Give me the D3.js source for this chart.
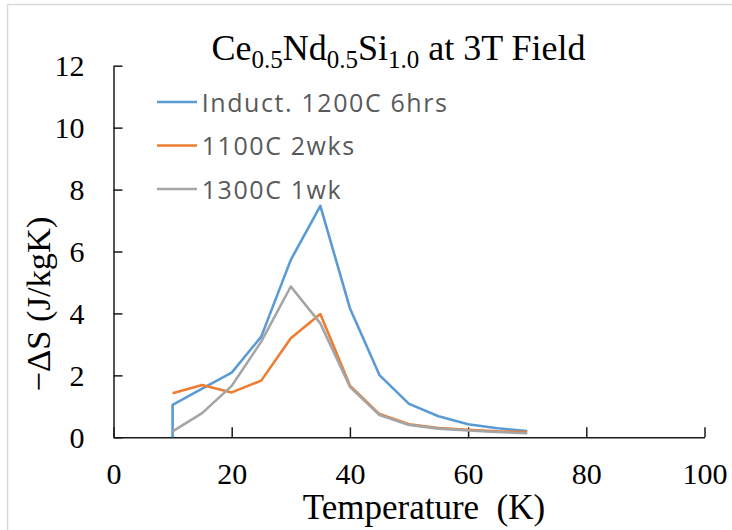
<!DOCTYPE html>
<html>
<head>
<meta charset="utf-8">
<script src="https://cdn.jsdelivr.net/npm/d3@7"></script>
<style>
  html, body { margin: 0; padding: 0; background: #fff; }
  svg { display: block; }
</style>
</head>
<body>
<div id="chart"></div>
<script>
// ---- data ----
const seriesNames = ["Induct. 1200C 6hrs", "1100C 2wks", "1300C 1wk"];
const seriesColors = ["#5B9BD5", "#ED7D31", "#A5A5A5"];
const inductTemps = [10, 10, 15, 20, 25, 30, 35, 40, 45, 50, 55, 60, 65, 70];
const inductVals  = [0, 1.05, 1.57, 2.09, 3.25, 5.73, 7.47, 4.17, 2.01, 1.08, 0.68, 0.42, 0.29, 0.20];
const temps       = [10, 15, 20, 25, 30, 35, 40, 45, 50, 55, 60, 65, 70];
const wks2Vals    = [1.42, 1.69, 1.45, 1.83, 3.20, 3.98, 1.67, 0.75, 0.42, 0.30, 0.24, 0.19, 0.17];
const wk1Vals     = [0.19, 0.78, 1.66, 3.09, 4.87, 3.68, 1.63, 0.72, 0.40, 0.28, 0.22, 0.17, 0.13];
const xTicks = [0, 20, 40, 60, 80, 100];
const yTicks = [0, 2, 4, 6, 8, 10, 12];

const series = [
  { name: seriesNames[0], color: seriesColors[0], pts: inductTemps.map((t, i) => [t, inductVals[i]]) },
  { name: seriesNames[1], color: seriesColors[1], pts: temps.map((t, i) => [t, wks2Vals[i]]) },
  { name: seriesNames[2], color: seriesColors[2], pts: temps.map((t, i) => [t, wk1Vals[i]]) }
];

// ---- layout ----
const W = 732, H = 530;
const svg = d3.select("#chart").append("svg").attr("width", W).attr("height", H);

// chart-area border (left + top)
svg.append("path").attr("d", "M7.5,530 V4.5 H732")
  .attr("fill", "none").attr("stroke", "#d9d9d9").attr("stroke-width", 1.5);

const x = d3.scaleLinear().domain([0, 100]).range([113.5, 704.5]);
const y = d3.scaleLinear().domain([0, 12]).range([437.3, 65.7]);

const serif = "'Liberation Serif', 'Times New Roman', serif";

// axes
const xAxis = svg.append("g").attr("transform", `translate(0,${y(0)})`)
  .call(d3.axisBottom(x).tickValues(xTicks).tickSizeInner(-10).tickSizeOuter(0).tickPadding(40));
const yAxis = svg.append("g").attr("transform", `translate(${x(0)},0)`)
  .call(d3.axisLeft(y).tickValues(yTicks).tickSizeInner(-9).tickSizeOuter(0).tickPadding(29));

[xAxis, yAxis].forEach(g => {
  g.select(".domain").attr("stroke", "#1a1a1a").attr("stroke-width", 1.5);
  g.selectAll(".tick line").attr("stroke", "#1a1a1a").attr("stroke-width", 1.5);
  g.selectAll(".tick text").attr("font-family", serif).attr("font-size", 30).attr("fill", "#000");
});
xAxis.selectAll(".tick text").attr("dy", 0).attr("y", 47);
yAxis.selectAll(".tick text").attr("dy", "0.34em").attr("x", -29);

// lines
const line = d3.line().x(d => x(d[0])).y(d => y(d[1]));
svg.append("g").selectAll("path").data(series).join("path")
  .attr("d", d => line(d.pts))
  .attr("fill", "none")
  .attr("stroke", d => d.color)
  .attr("stroke-width", 2.6)
  .attr("stroke-linejoin", "round");

// title
const title = svg.append("text")
  .attr("x", 398.5).attr("y", 60)
  .attr("text-anchor", "middle")
  .attr("font-family", serif).attr("font-size", 36).attr("fill", "#000");
const parts = [["Ce", false], ["0.5", true], ["Nd", false], ["0.5", true], ["Si", false], ["1.0", true], [" at 3T Field", false]];
parts.forEach(([t, sub]) => {
  const ts = title.append("tspan").text(t).style("white-space", "pre");
  if (sub) ts.attr("font-size", 25).attr("baseline-shift", "-8");
});

// axis titles
svg.append("text")
  .attr("x", 424).attr("y", 519)
  .attr("text-anchor", "middle")
  .style("white-space", "pre")
  .attr("font-family", serif).attr("font-size", 35).attr("fill", "#000")
  .text("Temperature  (K)");

svg.append("text")
  .attr("transform", "translate(50,304) rotate(-90)")
  .attr("text-anchor", "middle")
  .attr("font-family", serif).attr("font-size", 34.5).attr("fill", "#000")
  .text("\u2212\u0394S (J/kgK)");

// legend
const legY = [102, 145.5, 189];
const leg = svg.append("g").selectAll("g").data(series).join("g")
  .attr("transform", (d, i) => `translate(0,${legY[i]})`);
leg.append("line").attr("x1", 157).attr("x2", 197).attr("y1", 0).attr("y2", 0)
  .attr("stroke", d => d.color).attr("stroke-width", 2.6);
leg.append("text").attr("x", 201.7).attr("y", 9.5)
  .attr("font-family", "'Open Sans', sans-serif").attr("font-size", 25)
  .attr("letter-spacing", 1.6)
  .attr("fill", "#595959")
  .style("white-space", "pre")
  .text(d => d.name);
</script>
</body>
</html>
